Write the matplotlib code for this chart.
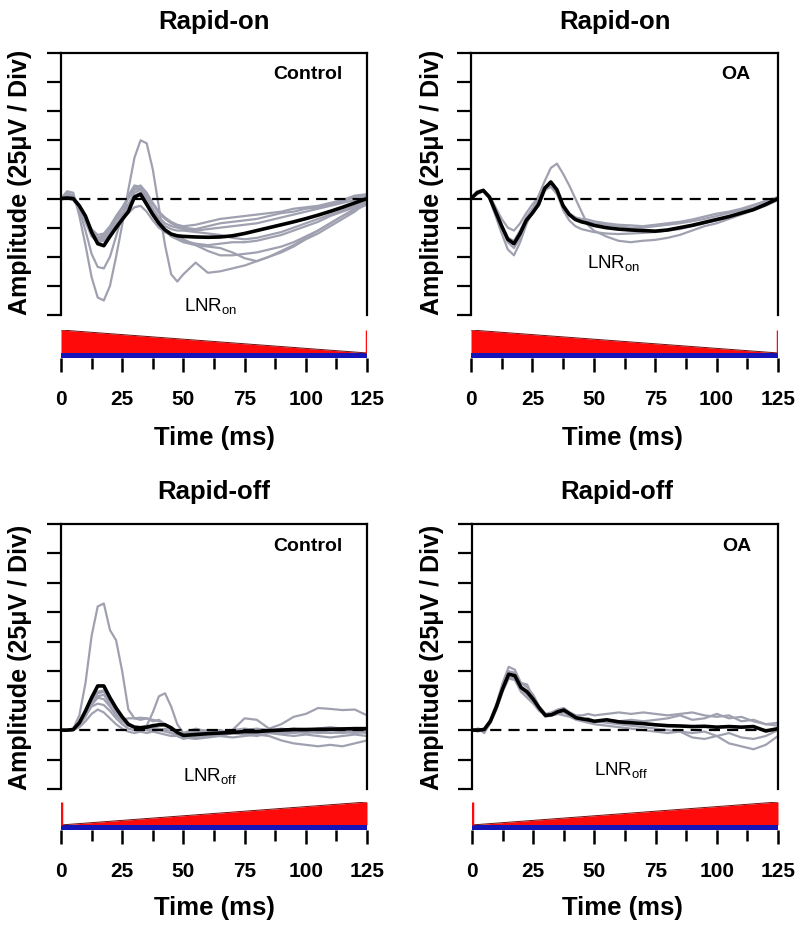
import matplotlib
matplotlib.use('Agg')
import matplotlib.pyplot as plt
import numpy as np

plt.rcParams['font.family'] = ['Liberation Sans', 'DejaVu Sans']
plt.rcParams['mathtext.default'] = 'regular'

# time base (ms)
t = [0, 2.5, 5, 7.5, 10, 12.5, 15, 17.5, 20, 22.5, 25, 27.5, 30, 32.5, 35, 37.5, 40, 42.5, 45, 47.5,
     50, 55, 60, 65, 70, 75, 80, 85, 90, 95, 100, 105, 110, 115, 120, 125]

# ---- Rapid-on, Control ----
on_ctrl_mean = [0, 0.02, 0, -0.25, -0.6, -1.15, -1.55, -1.62, -1.3, -1.0, -0.72, -0.45, 0.05, 0.15, -0.2, -0.55, -0.85, -1.08, -1.22, -1.28,
                -1.3, -1.32, -1.33, -1.32, -1.28, -1.2, -1.1, -1.0, -0.9, -0.8, -0.69, -0.57, -0.44, -0.3, -0.15, 0]
on_ctrl_traces = [
    [0, 0.25, 0.2, -0.6, -1.6, -2.7, -3.4, -3.5, -3.0, -2.0, -0.9, 0.3, 1.4, 2.0, 1.9, 1.0, -0.3, -1.6, -2.6, -2.85,
     -2.6, -2.2, -2.55, -2.5, -2.4, -2.3, -2.15, -2.0, -1.85, -1.65, -1.4, -1.2, -0.95, -0.7, -0.45, -0.1],
    [0, 0.2, 0.1, -0.4, -1.1, -1.9, -2.35, -2.4, -2.0, -1.3, -0.6, 0.1, 0.45, 0.4, 0.0, -0.5, -0.9, -1.15, -1.25, -1.3,
     -1.4, -1.6, -1.8, -1.95, -1.95, -1.9, -1.85, -1.75, -1.65, -1.5, -1.3, -1.1, -0.85, -0.6, -0.4, -0.2],
    [0, 0.1, 0.05, -0.3, -0.8, -1.3, -1.5, -1.45, -1.2, -0.9, -0.6, -0.2, 0.2, 0.3, 0.0, -0.4, -0.8, -1.1, -1.3, -1.4,
     -1.5, -1.6, -1.65, -1.7, -1.85, -2.05, -2.15, -2.0, -1.8, -1.6, -1.35, -1.1, -0.85, -0.6, -0.35, -0.1],
    [0, 0.15, 0.05, -0.25, -0.7, -1.2, -1.45, -1.4, -1.1, -0.7, -0.35, 0.0, 0.3, 0.35, 0.1, -0.2, -0.5, -0.7, -0.85, -0.95,
     -1.0, -1.05, -0.95, -0.85, -0.8, -0.75, -0.7, -0.6, -0.5, -0.45, -0.35, -0.3, -0.2, -0.1, 0.05, 0.1],
    [0, 0.05, 0.0, -0.3, -0.8, -1.25, -1.4, -1.3, -1.05, -0.75, -0.5, -0.2, 0.1, 0.2, 0.0, -0.35, -0.65, -0.85, -0.95, -1.0,
     -1.05, -1.1, -1.05, -1.0, -0.95, -0.9, -0.85, -0.75, -0.65, -0.55, -0.45, -0.35, -0.25, -0.15, -0.05, 0.05],
    [0, 0.0, -0.05, -0.35, -0.75, -1.2, -1.35, -1.25, -1.0, -0.85, -0.7, -0.5, -0.3, -0.25, -0.45, -0.75, -1.0, -1.15, -1.25, -1.35,
     -1.45, -1.55, -1.6, -1.55, -1.5, -1.5, -1.45, -1.35, -1.25, -1.1, -0.95, -0.8, -0.6, -0.45, -0.3, -0.15],
    [0, 0.1, 0.05, -0.25, -0.65, -1.05, -1.25, -1.2, -0.95, -0.6, -0.3, 0.05, 0.35, 0.45, 0.2, -0.15, -0.45, -0.65, -0.8, -0.9,
     -0.95, -0.9, -0.8, -0.7, -0.65, -0.6, -0.55, -0.5, -0.45, -0.35, -0.3, -0.25, -0.15, -0.05, 0.1, 0.15],
    [0, 0.05, 0.0, -0.3, -0.75, -1.15, -1.35, -1.35, -1.15, -0.9, -0.6, -0.25, 0.1, 0.15, -0.1, -0.45, -0.75, -0.95, -1.05, -1.1,
     -1.1, -1.15, -1.2, -1.25, -1.35, -1.4, -1.35, -1.25, -1.15, -1.0, -0.85, -0.7, -0.55, -0.4, -0.25, -0.1],
]

# ---- Rapid-on, OA ----
on_oa_mean = [0, 0.2, 0.28, 0.05, -0.45, -0.95, -1.4, -1.55, -1.2, -0.75, -0.5, -0.2, 0.35, 0.57, 0.3, -0.25, -0.55, -0.72, -0.8, -0.85,
              -0.92, -1.0, -1.05, -1.08, -1.1, -1.12, -1.08, -1.0, -0.92, -0.82, -0.72, -0.62, -0.5, -0.38, -0.2, 0.0]
on_oa_traces = [
    [0, 0.2, 0.3, 0.0, -0.6, -1.2, -1.75, -1.95, -1.5, -0.9, -0.4, 0.1, 0.6, 1.05, 1.2, 0.85, 0.45, 0.0, -0.45, -0.9,
     -1.1, -1.3, -1.45, -1.5, -1.45, -1.42, -1.35, -1.25, -1.1, -0.95, -0.85, -0.7, -0.55, -0.4, -0.25, -0.05],
    [0, 0.25, 0.3, 0.1, -0.3, -0.7, -1.0, -1.1, -0.85, -0.5, -0.2, 0.05, 0.3, 0.4, 0.15, -0.3, -0.55, -0.65, -0.7, -0.72,
     -0.78, -0.85, -0.9, -0.92, -0.95, -0.9, -0.85, -0.8, -0.72, -0.62, -0.52, -0.45, -0.35, -0.22, -0.08, 0.05],
    [0, 0.15, 0.25, 0.0, -0.5, -1.0, -1.5, -1.7, -1.35, -0.85, -0.5, -0.25, 0.25, 0.5, 0.2, -0.4, -0.75, -0.95, -1.05, -1.1,
     -1.15, -1.2, -1.22, -1.2, -1.18, -1.15, -1.1, -1.05, -0.95, -0.85, -0.75, -0.65, -0.5, -0.35, -0.2, -0.05],
    [0, 0.2, 0.3, 0.05, -0.4, -0.9, -1.35, -1.45, -1.1, -0.65, -0.35, -0.05, 0.4, 0.45, 0.2, -0.2, -0.5, -0.65, -0.75, -0.8,
     -0.85, -0.9, -0.95, -1.0, -1.0, -0.95, -0.9, -0.85, -0.78, -0.7, -0.6, -0.5, -0.4, -0.3, -0.15, 0.0],
]

# ---- Rapid-off, Control ----
off_ctrl_mean = [0, 0, 0.02, 0.25, 0.65, 1.1, 1.5, 1.5, 1.1, 0.75, 0.45, 0.2, 0.1, 0.08, 0.1, 0.15, 0.18, 0.18, 0.08, -0.08,
                 -0.18, -0.15, -0.12, -0.1, -0.08, -0.05, -0.05, -0.02, 0.0, 0.02, 0.02, 0.03, 0.03, 0.04, 0.05, 0.05]
off_ctrl_traces = [
    [0, 0, 0.05, 0.5, 1.6, 3.2, 4.2, 4.3, 3.4, 3.05, 2.0, 0.7, 0.4, 0.42, 0.4, 0.35, 0.3, 0.2, 0.05, -0.1,
     -0.15, -0.1, -0.15, -0.1, -0.08, -0.05, -0.1, -0.05, -0.08, -0.1, -0.05, -0.1, -0.08, -0.1, -0.05, -0.1],
    [0, 0, 0.0, 0.2, 0.55, 0.9, 1.25, 1.3, 1.0, 0.65, 0.35, 0.15, 0.1, 0.1, 0.15, 0.6, 1.15, 1.25, 0.8, 0.2,
     -0.1, -0.05, 0.0, -0.05, 0.0, 0.05, 0.0, -0.05, 0.0, 0.05, 0.0, -0.05, 0.0, 0.0, 0.05, 0.0],
    [0, 0, 0.0, 0.15, 0.45, 0.85, 1.1, 1.05, 0.8, 0.5, 0.3, 0.15, 0.1, 0.05, 0.0, -0.05, 0.0, 0.05, 0.0, -0.1,
     -0.15, -0.1, -0.05, -0.1, 0.0, 0.4, 0.35, 0.05, 0.2, 0.45, 0.55, 0.75, 0.72, 0.68, 0.7, 0.5],
    [0, 0, 0.0, 0.1, 0.3, 0.55, 0.7, 0.6, 0.4, 0.2, 0.05, -0.05, -0.1, -0.05, -0.1, -0.05, -0.1, -0.15, -0.2, -0.2,
     -0.25, -0.3, -0.25, -0.2, -0.25, -0.2, -0.15, -0.2, -0.35, -0.45, -0.5, -0.55, -0.5, -0.55, -0.45, -0.35],
    [0, 0, 0.02, 0.2, 0.6, 1.0, 1.3, 1.35, 1.0, 0.6, 0.35, 0.4, 0.4, 0.35, 0.4, 0.3, 0.35, 0.2, 0.05, -0.15,
     -0.2, -0.25, -0.2, -0.15, -0.1, -0.15, -0.1, -0.05, -0.1, -0.05, -0.1, -0.05, -0.1, -0.05, -0.1, -0.05],
    [0, 0, 0.0, 0.2, 0.5, 0.8, 0.9, 0.85, 0.65, 0.4, 0.2, 0.05, 0.0, -0.05, 0.05, 0.1, 0.05, 0.0, -0.1, -0.2,
     -0.3, -0.2, -0.15, -0.2, -0.1, -0.15, -0.2, -0.1, -0.15, -0.2, -0.15, -0.2, -0.25, -0.2, -0.15, -0.2],
    [0, 0, 0.02, 0.2, 0.5, 0.95, 1.15, 1.2, 0.9, 0.7, 0.4, 0.2, 0.1, 0.05, 0.0, 0.05, 0.0, -0.05, -0.1, -0.15,
     -0.1, 0.05, -0.05, 0.0, -0.1, 0.0, 0.05, 0.0, 0.05, 0.0, -0.05, 0.05, 0.1, 0.05, 0.0, 0.05],
]

# ---- Rapid-off, OA ----
off_oa_mean = [0, 0.0, 0.02, 0.3, 0.8, 1.4, 1.9, 1.85, 1.45, 1.3, 1.05, 0.75, 0.5, 0.52, 0.62, 0.68, 0.55, 0.42, 0.38, 0.35,
               0.3, 0.35, 0.28, 0.25, 0.22, 0.18, 0.15, 0.14, 0.12, 0.13, 0.1, 0.12, 0.1, 0.12, -0.03, 0.05]
off_oa_traces = [
    [0, -0.05, 0.05, 0.35, 0.9, 1.6, 2.15, 2.05, 1.6, 1.45, 1.2, 0.8, 0.55, 0.6, 0.7, 0.75, 0.6, 0.5, 0.5, 0.55,
     0.5, 0.55, 0.6, 0.55, 0.6, 0.55, 0.5, 0.55, 0.6, 0.5, 0.45, 0.5, 0.3, 0.35, 0.2, 0.25],
    [0, 0.05, -0.1, 0.25, 0.75, 1.35, 1.8, 1.75, 1.4, 1.2, 0.95, 0.7, 0.5, 0.5, 0.55, 0.5, 0.45, 0.35, 0.3, 0.25,
     0.2, 0.15, 0.1, 0.05, 0.0, -0.05, -0.1, -0.05, -0.25, -0.3, -0.2, -0.45, -0.55, -0.65, -0.5, -0.2],
    [0, 0.0, 0.05, 0.3, 0.85, 1.5, 2.0, 1.95, 1.6, 1.55, 1.1, 0.7, 0.45, 0.5, 0.55, 0.6, 0.5, 0.4, 0.35, 0.4,
     0.3, 0.25, 0.2, 0.15, 0.1, 0.05, 0.0, -0.05, -0.1, -0.05, -0.2, -0.1, -0.25, -0.3, -0.2, 0.0],
    [0, 0.05, 0.0, 0.25, 0.7, 1.3, 1.75, 1.7, 1.3, 1.1, 0.9, 0.65, 0.5, 0.55, 0.6, 0.65, 0.5, 0.4, 0.35, 0.3,
     0.3, 0.35, 0.3, 0.35, 0.3, 0.35, 0.4, 0.5, 0.35, 0.4, 0.55, 0.4, 0.45, 0.3, 0.2, 0.15],
]

# stimulus (normalised luminance ramp)
stim_t = [0, 125]
stim_on = [1.0, 0.0]
stim_off = [0.0, 1.0]

titles = ['Rapid-on', 'Rapid-on', 'Rapid-off', 'Rapid-off']
groups = ['Control', 'OA', 'Control', 'OA']
lnr_labels = ['LNR$_{on}$', 'LNR$_{on}$', 'LNR$_{off}$', 'LNR$_{off}$']
xtick_vals = [0, 25, 50, 75, 100, 125]

W, H = 800, 933
fig = plt.figure(figsize=(8, 9.33), dpi=100)

GRAY = '#a0a1b0'


def px(x0, y_top, w, h):
    return [x0 / W, 1 - (y_top + h) / H, w / W, h / H]


def draw_panel(main_rect, stim_rect, mean, traces, ylim, stim, reset_x,
               title, title_xy, group, group_xy, lnr, lnr_xy, ylab_xy, xlab_xy):
    ax = fig.add_axes(main_rect)
    for tr in traces:
        ax.plot(t, tr, color=GRAY, lw=1.6, zorder=2)
    ax.axhline(0, color='black', lw=1.6, ls=(0, (5, 3.2)), zorder=3)
    ax.plot(t, mean, color='black', lw=2.6, zorder=4)
    ax.set_xlim(0, 125)
    ax.set_ylim(*ylim)
    ax.set_yticks(np.arange(ylim[0], ylim[1] + 1, 1))
    ax.set_yticklabels([])
    ax.set_xticks([])
    ax.spines['bottom'].set_visible(False)
    for s in ['left', 'top', 'right']:
        ax.spines[s].set_linewidth(1.6)
    ax.tick_params(axis='y', direction='out', length=10, width=1.6)
    ax.text(group_xy[0], group_xy[1], group, fontsize=14, fontweight='bold', ha='center', va='center')
    ax.text(lnr_xy[0], lnr_xy[1], lnr, fontsize=13.5, ha='center', va='center')

    sx = fig.add_axes(stim_rect)
    bar_h = 0.18
    sx.set_xlim(0, 125)
    sx.set_ylim(0, 1)
    ramp = bar_h + (1 - bar_h) * np.array(stim)
    sx.fill_between(stim_t, bar_h, ramp, color='#ff0a0a', lw=0)
    sx.plot(stim_t, ramp, color='#701010', lw=0.7)
    sx.plot([reset_x, reset_x], [bar_h, 1], color='#ff0a0a', lw=2.5, solid_capstyle='butt')
    sx.fill_between(stim_t, 0, bar_h, color='#1414b8', lw=0)
    for s in ['left', 'top', 'right', 'bottom']:
        sx.spines[s].set_visible(False)
    sx.set_yticks([])
    sx.set_xticks(xtick_vals)
    sx.set_xticks(np.arange(12.5, 125, 25), minor=True)
    sx.set_xticklabels([str(v) for v in xtick_vals], fontsize=15, fontweight='bold')
    sx.tick_params(axis='x', which='major', direction='out', length=10, width=1.8, pad=13)
    sx.tick_params(axis='x', which='minor', direction='out', length=8, width=1.8)

    fig.text(title_xy[0] / W, 1 - title_xy[1] / H, title, fontsize=18.5, fontweight='bold',
             ha='center', va='center')
    fig.text(ylab_xy[0] / W, 1 - ylab_xy[1] / H, 'Amplitude (25\u03bcV / Div)', fontsize=18,
             fontweight='bold', rotation=90, ha='center', va='center')
    fig.text(xlab_xy[0] / W, 1 - xlab_xy[1] / H, 'Time (ms)', fontsize=18.5, fontweight='bold',
             ha='center', va='center')


draw_panel(px(61, 53, 306, 262), px(61, 330, 306, 28), on_ctrl_mean, on_ctrl_traces, (-4, 5),
           stim_on, 125, titles[0], (214, 22), groups[0], (101, 4.25), lnr_labels[0], (61, -3.7),
           (20, 182), (214, 438))
draw_panel(px(471, 53, 307, 262), px(471, 330, 307, 28), on_oa_mean, on_oa_traces, (-4, 5),
           stim_on, 125, titles[1], (615, 22), groups[1], (108, 4.25), lnr_labels[1], (58, -2.2),
           (432, 182), (622, 438))
draw_panel(px(61, 524, 306, 265), px(61, 802, 306, 28), off_ctrl_mean, off_ctrl_traces, (-2, 7),
           stim_off, 0, titles[2], (214, 492), groups[2], (101, 6.25), lnr_labels[2], (61, -1.55),
           (20, 657), (214, 908))
draw_panel(px(472, 524, 306, 265), px(472, 802, 306, 28), off_oa_mean, off_oa_traces, (-2, 7),
           stim_off, 0, titles[3], (617, 492), groups[3], (108, 6.25), lnr_labels[3], (61, -1.35),
           (432, 657), (622, 908))

plt.savefig('out.png', dpi=100)
